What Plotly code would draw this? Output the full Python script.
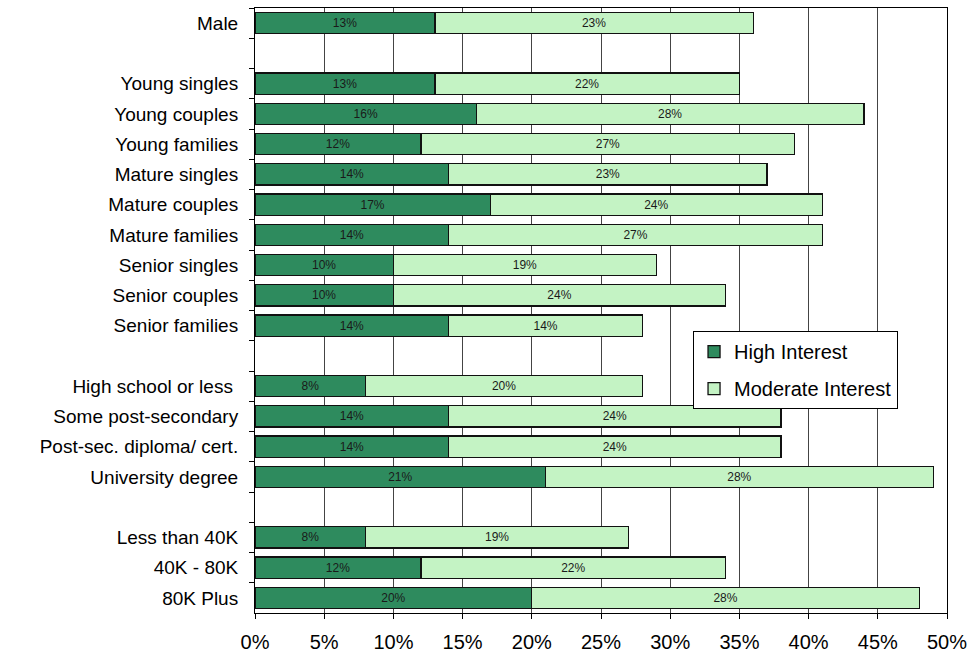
import plotly.graph_objects as go

# Segment labels (blank entries act as spacers between groups)
categories = [
    "Male", " ",
    "Young singles", "Young couples", "Young families",
    "Mature singles", "Mature couples", "Mature families",
    "Senior singles", "Senior couples", "Senior families", "  ",
    "High school or less ", "Some post-secondary", "Post-sec. diploma/ cert.",
    "University degree", "   ",
    "Less than 40K", "40K - 80K", "80K Plus",
]

high_interest = [13, None, 13, 16, 12, 14, 17, 14, 10, 10, 14, None,
                 8, 14, 14, 21, None, 8, 12, 20]
moderate_interest = [23, None, 22, 28, 27, 23, 24, 27, 19, 24, 14, None,
                     20, 24, 24, 28, None, 19, 22, 28]

x_ticks = list(range(0, 55, 5))
x_tick_labels = [f"{v}%" for v in x_ticks]

font_family = "Liberation Sans, Arial, sans-serif"

fig = go.Figure()
fig.add_trace(go.Bar(
    y=categories, x=high_interest, orientation="h",
    name="High Interest", legendgroup="high",
    marker=dict(color="#2E8B5E", line=dict(color="#111111", width=1.3)),
    text=[f"{v}%" if v is not None else "" for v in high_interest],
    textposition="inside", insidetextanchor="middle",
    textfont=dict(size=12, color="#1a1a1a", family=font_family),
    constraintext="none", width=0.7,
))
fig.add_trace(go.Bar(
    y=categories, x=moderate_interest, orientation="h",
    name="Moderate Interest", legendgroup="moderate",
    marker=dict(color="#C4F3C4", line=dict(color="#111111", width=1.3)),
    text=[f"{v}%" if v is not None else "" for v in moderate_interest],
    textposition="inside", insidetextanchor="middle",
    textfont=dict(size=12, color="#1a1a1a", family=font_family),
    constraintext="none", width=0.7,
))

fig.update_layout(
    width=970, height=656,
    margin=dict(l=255, r=23, t=8, b=43),
    barmode="stack",
    plot_bgcolor="white", paper_bgcolor="white",
    font=dict(family=font_family, size=19, color="black"),
    legend=dict(
        x=0.633, y=0.466, xanchor="left", yanchor="top",
        bgcolor="white", bordercolor="black", borderwidth=1,
        font=dict(size=20, family=font_family),
        traceorder="grouped", tracegroupgap=8,
    ),
    showlegend=True,
)

fig.update_xaxes(
    range=[0, 50], tickvals=x_ticks, ticktext=x_tick_labels,
    showgrid=True, gridcolor="#444444", gridwidth=1,
    showline=True, linecolor="black", linewidth=1, mirror=True,
    ticks="outside", ticklen=5, tickcolor="black",
    tickfont=dict(size=20), zeroline=False,
    ticklabelstandoff=6, automargin=False,
)
fig.update_yaxes(
    categoryorder="array", categoryarray=categories,
    autorange="reversed", tickson="boundaries",
    showline=True, linecolor="black", linewidth=1, mirror=True,
    ticks="outside", ticklen=5, tickcolor="black",
    tickfont=dict(size=19), showgrid=False,
    ticklabelstandoff=12, automargin=False,
)

fig.write_html("out.html")
